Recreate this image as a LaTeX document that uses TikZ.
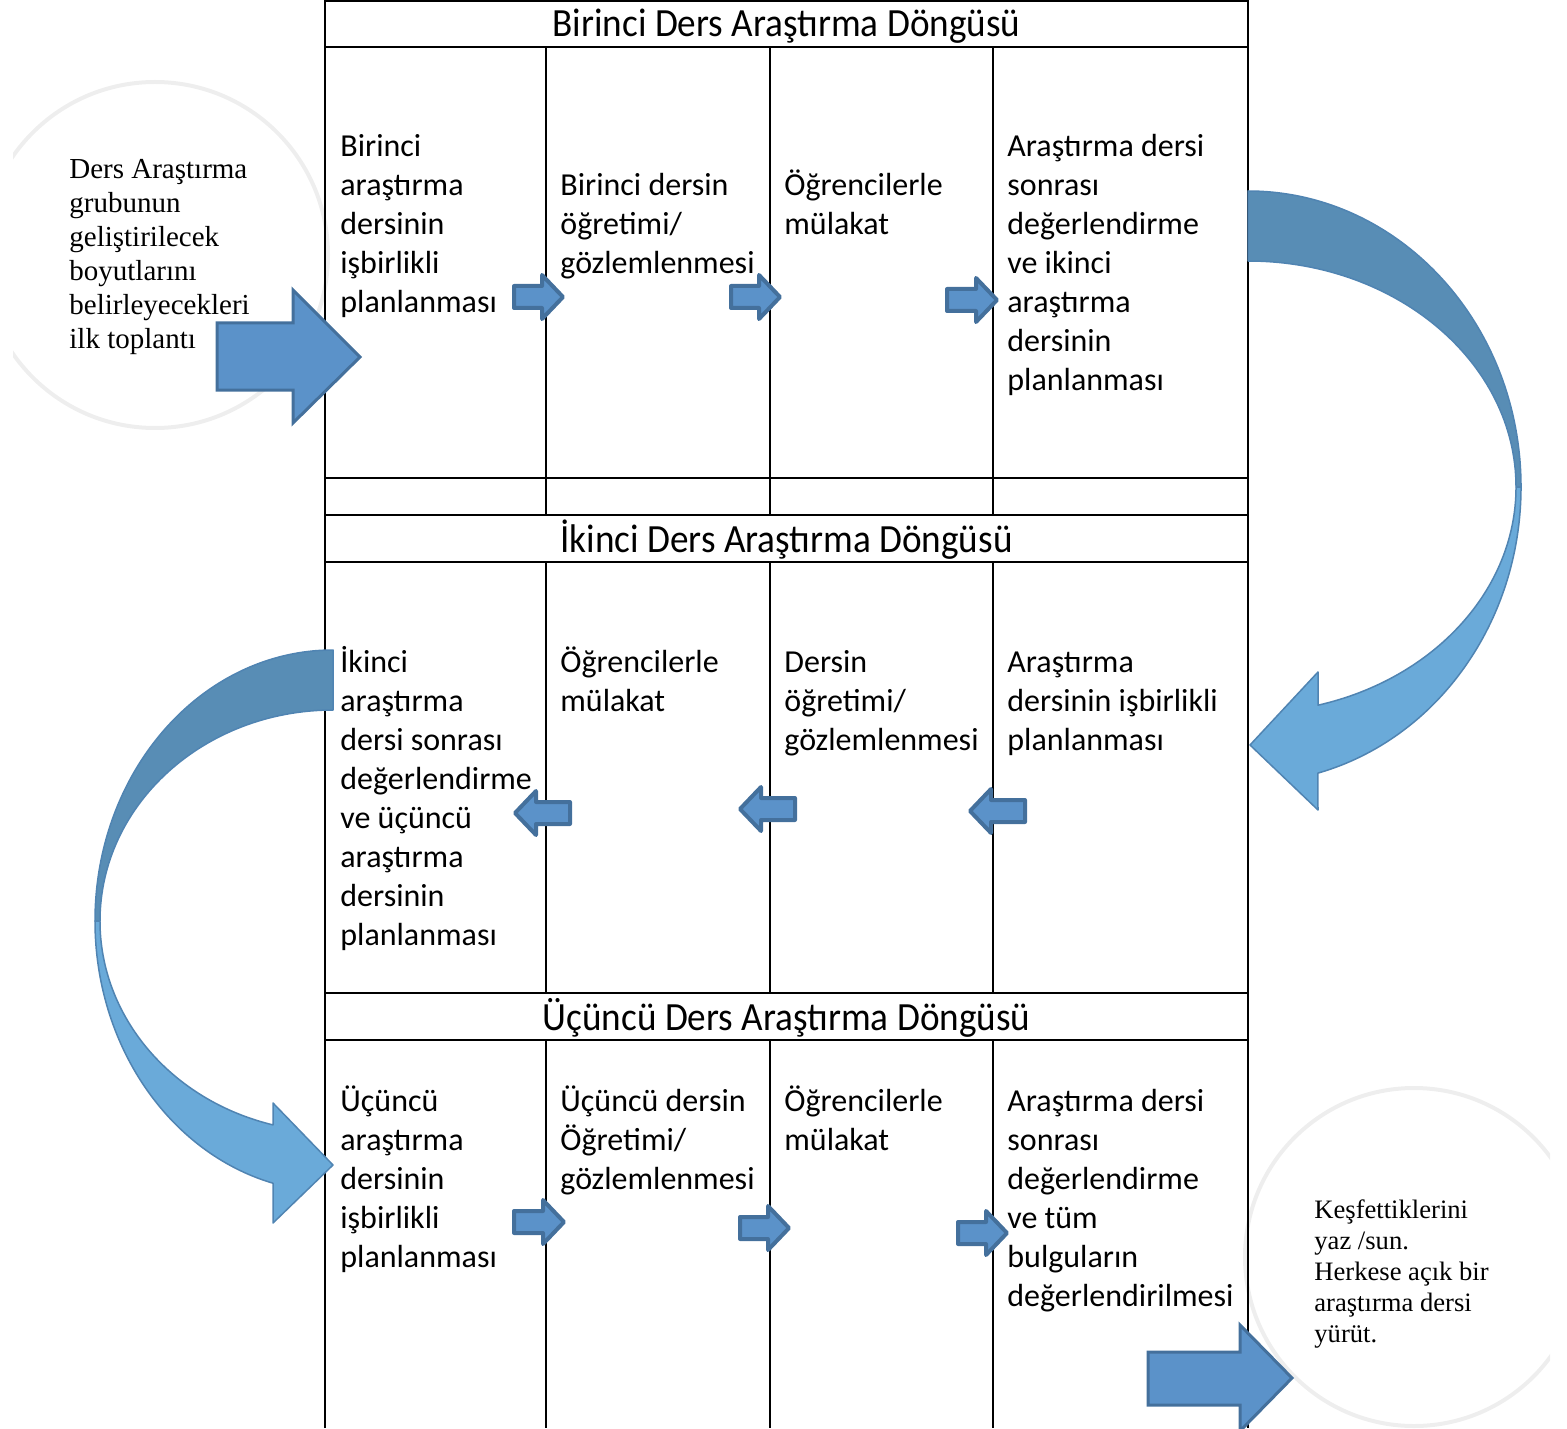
\documentclass[tikz,border=0pt]{standalone}
\usepackage{fontspec}
\usepackage{graphicx}
\setmainfont{Carlito}
\newfontfamily\circfont{Liberation Serif}
\definecolor{arrfill}{RGB}{91,146,201}
\definecolor{arrline}{RGB}{68,112,156}
\definecolor{cdark}{RGB}{88,141,181}
\definecolor{clight}{RGB}{106,170,217}
\definecolor{cline}{RGB}{80,132,178}
\definecolor{circline}{RGB}{238,238,238}
\newcommand\celltxt[1]{\parbox[t]{300pt}{\raggedright\fontsize{16pt}{19.5pt}\selectfont #1}}
\newcommand\lcirctxt[1]{\parbox[t]{200pt}{\raggedright\circfont\fontsize{14.5pt}{17pt}\selectfont #1}}
\newcommand\rcirctxt[1]{\parbox[t]{200pt}{\raggedright\circfont\fontsize{13.3pt}{15.6pt}\selectfont #1}}
\newcommand\ttl[1]{\fontsize{20pt}{24pt}\selectfont\scalebox{0.93}[1]{#1}}
\newcommand\rarr[3]{\draw[smarr] (#1,#3-11) -- (#2-21,#3-11) -- (#2-21,#3-22) -- (#2,#3) -- (#2-21,#3+22) -- (#2-21,#3+11) -- (#1,#3+11) -- cycle;}
\newcommand\larr[3]{\draw[smarr] (#2,#3-11) -- (#1+21,#3-11) -- (#1+21,#3-22) -- (#1,#3) -- (#1+21,#3+22) -- (#1+21,#3+11) -- (#2,#3+11) -- cycle;}
\begin{document}
\begin{tikzpicture}[x=0.5pt,y=-0.5pt,
  tab/.style={line width=1pt, black},
  smarr/.style={fill=arrfill, draw=arrline, line width=2pt, line join=round},
  bigarr/.style={fill=arrfill, draw=arrline, line width=1.5pt, line join=miter},
  celln/.style={anchor=base west, inner sep=0pt},
  titlen/.style={anchor=base, inner sep=0pt},
  circ/.style={draw=circline, line width=2pt}]
\useasboundingbox (0,0) rectangle (1567,1428);
% circles
\begin{scope}
\clip (13,0) rectangle (1550,1428);
\draw[circ] (155,255) circle[radius=173];
\draw[circ] (1414,1257) circle[radius=169];
\end{scope}
\node[celln] (lc) at (69,179) {\lcirctxt{Ders Araştırma\\grubunun\\geliştirilecek\\boyutlarını\\belirleyecekleri\\ilk toplantı}};
\node[celln] (rc) at (1314,1218) {\rcirctxt{Keşfettiklerini\\yaz /sun.\\Herkese açık bir\\araştırma dersi\\yürüt.}};
% table
\draw[tab] (325,1428) -- (325,1) -- (1248,1) -- (1248,1428);
\foreach \y in {47,478,515,562,993,1040} \draw[tab] (325,\y) -- (1248,\y);
\foreach \x in {546,770,993} {
  \draw[tab] (\x,47) -- (\x,515);
  \draw[tab] (\x,562) -- (\x,993);
  \draw[tab] (\x,1040) -- (\x,1428);
}
\node[titlen] (t1) at (786.5,37) {\ttl{Birinci Ders Araştırma Döngüsü}};
\node[titlen] (t2) at (786.5,552) {\ttl{İkinci Ders Araştırma Döngüsü}};
\node[titlen] (t3) at (786.5,1030) {\ttl{Üçüncü Ders Araştırma Döngüsü}};
% row 1
\node[celln] (c11) at (340,157) {\celltxt{Birinci\\araştırma\\dersinin\\işbirlikli\\planlanması}};
\node[celln] (c12) at (560,196) {\celltxt{Birinci dersin\\öğretimi/\\gözlemlenmesi}};
\node[celln] (c13) at (784,196) {\celltxt{Öğrencilerle\\mülakat}};
\node[celln] (c14) at (1007,157) {\celltxt{Araştırma dersi\\sonrası\\değerlendirme\\ve ikinci\\araştırma\\dersinin\\planlanması}};
% row 2
\node[celln] (c21) at (340,672) {\celltxt{İkinci\\araştırma\\dersi sonrası\\değerlendirme\\ve üçüncü\\araştırma\\dersinin\\planlanması}};
\node[celln] (c22) at (560,672) {\celltxt{Öğrencilerle\\mülakat}};
\node[celln] (c23) at (784,672) {\celltxt{Dersin\\öğretimi/\\gözlemlenmesi}};
\node[celln] (c24) at (1007,672) {\celltxt{Araştırma\\dersinin işbirlikli\\planlanması}};
% row 3
\node[celln] (c31) at (340,1111) {\celltxt{Üçüncü\\araştırma\\dersinin\\işbirlikli\\planlanması}};
\node[celln] (c32) at (560,1111) {\celltxt{Üçüncü dersin\\Öğretimi/\\gözlemlenmesi}};
\node[celln] (c33) at (784,1111) {\celltxt{Öğrencilerle\\mülakat}};
\node[celln] (c34) at (1007,1111) {\celltxt{Araştırma dersi\\sonrası\\değerlendirme\\ve tüm\\bulguların\\değerlendirilmesi}};
% small arrows
\rarr{514}{563}{297}
\rarr{731}{780}{297}
\rarr{947}{997}{300}
\larr{515}{570}{813}
\larr{740}{795}{809}
\larr{970}{1025}{811}
\rarr{514}{564}{1222}
\rarr{740}{789}{1228}
\rarr{958}{1007}{1233}
% big straight arrows
\draw[bigarr] (217,323) -- (293,323) -- (293,290) -- (360,357) -- (293,423) -- (293,390) -- (217,390) -- cycle;
\draw[bigarr] (1148,1352) -- (1240,1352) -- (1240,1325) -- (1292,1378) -- (1240,1431) -- (1240,1405) -- (1148,1405) -- cycle;
% right curved arrow
\filldraw[fill=cdark, draw=cline, line width=0.75pt, line join=round]
  (1248,191) arc[start angle=-90, end angle=0, x radius=273, y radius=296]
  -- (1516,487) arc[start angle=0, end angle=-90, x radius=268, y radius=226] -- cycle;
\filldraw[fill=clight, draw=cline, line width=0.75pt, line join=round]
  (1521,487) arc[start angle=0, end angle=75.2, x radius=273, y radius=296]
  -- (1318,810) -- (1250,745) -- (1318,672) -- (1318,705.2)
  arc[start angle=74.86, end angle=0, x radius=268, y radius=226] -- cycle;
% left curved arrow
\filldraw[fill=cdark, draw=cline, line width=0.75pt, line join=round]
  (333,650) arc[start angle=-90, end angle=-180, x radius=238, y radius=271]
  -- (100,921) arc[start angle=180, end angle=270, x radius=233, y radius=211] -- cycle;
\filldraw[fill=clight, draw=cline, line width=0.75pt, line join=round]
  (95,921) arc[start angle=180, end angle=104.6, x radius=238, y radius=271]
  -- (273,1223) -- (333,1165) -- (273,1103) -- (273,1124.9)
  arc[start angle=104.92, end angle=180, x radius=233, y radius=211] -- cycle;
\end{tikzpicture}
\end{document}
